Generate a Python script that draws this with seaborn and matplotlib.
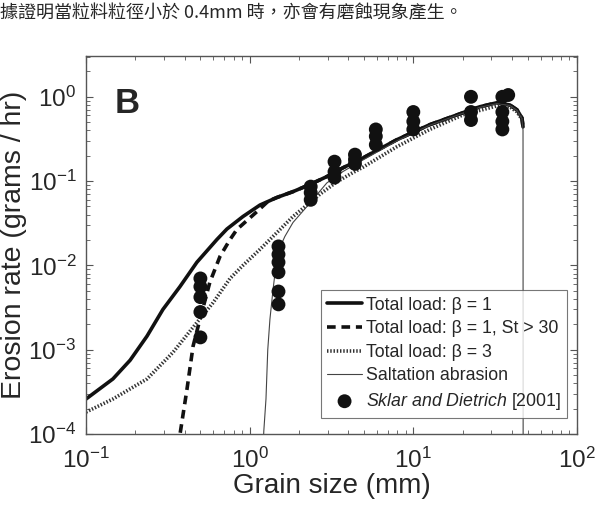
import numpy as np
import pandas as pd
import matplotlib
matplotlib.use('Agg')
import matplotlib.pyplot as plt
import seaborn as sns

# grain size (mm) and erosion rate (grams / hr)
solid_x = [0.1, 0.146, 0.186, 0.236, 0.295, 0.375, 0.476, 0.631, 0.726, 0.91, 1.156,
           1.47, 1.84, 2.33, 2.96, 3.72, 4.72, 7.94, 12.6, 20.1, 25.5, 32.4, 38.9, 43.0, 46.1, 46.8]
solid_y = [2.6e-4, 4.5e-4, 7.5e-4, 1.45e-3, 3.0e-3, 5.6e-3, 0.0109, 0.0203, 0.027, 0.038, 0.052,
           0.064, 0.075, 0.091, 0.113, 0.144, 0.18, 0.31, 0.467, 0.647, 0.762, 0.85, 0.80, 0.70, 0.56, 0.44]

dash_head_x = [0.365, 0.414, 0.451, 0.497, 0.571, 0.659, 0.759, 0.836, 1.11, 1.3]
dash_head_y = [7e-5, 3.4e-4, 1.1e-3, 2.3e-3, 6.3e-3, 0.0128, 0.0203, 0.0267, 0.0436, 0.058]
dash_x = dash_head_x + solid_x[11:]
dash_y = dash_head_y + solid_y[11:]

dot_x = [0.1, 0.146, 0.236, 0.34, 0.476, 0.597, 0.759, 0.91, 1.156, 1.47, 1.84, 2.24,
         2.69, 3.41, 4.27, 4.92, 7.94, 12.6, 20.1, 32.4, 38.9, 43.0, 46.1]
dot_y = [1.82e-4, 2.6e-4, 4.5e-4, 9.3e-4, 2.1e-3, 3.6e-3, 7.0e-3, 0.010, 0.0155, 0.0246, 0.038, 0.052,
         0.07, 0.098, 0.126, 0.146, 0.256, 0.41, 0.61, 0.78, 0.76, 0.66, 0.54]

salt_x = [1.2, 1.22, 1.258, 1.29, 1.33, 1.39, 1.45, 1.53, 1.64, 1.84, 2.24, 2.96, 3.72,
          4.72, 7.94, 12.6, 20.1, 25.5, 32.4, 38.9, 43.0, 46.1, 46.8, 46.9]
salt_y = [5e-5, 1.08e-4, 2.6e-4, 1.0e-3, 2.3e-3, 5.2e-3, 0.0103, 0.0163, 0.022, 0.0323, 0.050, 0.095, 0.13,
          0.17, 0.30, 0.46, 0.64, 0.75, 0.83, 0.79, 0.69, 0.55, 0.4, 1e-5]

# Sklar and Dietrich [2001] measurements
obs_x = [0.5, 0.5, 0.5, 0.5, 0.5,
         1.5, 1.5, 1.5, 1.5, 1.5, 1.5,
         2.36, 2.36, 2.36,
         3.3, 3.3, 3.3,
         4.4, 4.4, 4.4,
         5.9, 5.9, 5.9,
         10, 10, 10,
         22.5, 22.5, 22.5,
         35, 35, 35, 35, 38]
obs_y = [7.0e-3, 5.6e-3, 4.2e-3, 2.8e-3, 1.4e-3,
         0.0168, 0.0135, 0.0109, 8.3e-3, 4.9e-3, 3.45e-3,
         0.086, 0.073, 0.060,
         0.17, 0.129, 0.11,
         0.206, 0.18, 0.16,
         0.41, 0.34, 0.27,
         0.66, 0.51, 0.41,
         1.0, 0.66, 0.53,
         1.0, 0.66, 0.51, 0.41, 1.05]

sns.set_style('ticks')
plt.rcParams['font.family'] = ['Liberation Sans', 'DejaVu Sans']
plt.rcParams['mathtext.fontset'] = 'custom'
plt.rcParams['mathtext.rm'] = 'Liberation Sans'
plt.rcParams['mathtext.it'] = 'Liberation Sans:italic'
plt.rcParams['axes.unicode_minus'] = False

fig = plt.figure(figsize=(5.96, 5.07), dpi=100)
ax = fig.add_axes([0.1443, 0.144, 0.8238, 0.7456])
ax.set(xscale='log', yscale='log')

sns.lineplot(x=solid_x, y=solid_y, ax=ax, color='#111111', lw=2.6, estimator=None, sort=False,
             label='Total load: β = 1')
sns.lineplot(x=dash_x, y=dash_y, ax=ax, color='#111111', lw=2.6, estimator=None, sort=False,
             linestyle=(0, (2.4, 1.6)), label='Total load: β = 1, St > 30')
sns.lineplot(x=dot_x, y=dot_y, ax=ax, color='#333333', lw=2.6, estimator=None, sort=False,
             linestyle=(0, (0.4, 0.5)), label='Total load: β = 3')
sns.lineplot(x=salt_x, y=salt_y, ax=ax, color='#444444', lw=0.8, estimator=None, sort=False,
             label='Saltation abrasion')
sns.scatterplot(x=obs_x, y=obs_y, ax=ax, color='#111111', s=100, edgecolor='none', zorder=5,
                label=r'$\it{Sklar\ and\ Dietrich}$ [2001]')

ax.set_xlim(0.1, 100)
ax.set_ylim(1e-4, 3.05)
ax.set_xlabel('Grain size (mm)', fontsize=20, labelpad=0)
ax.set_ylabel('Erosion rate (grams / hr)', fontsize=20.5, labelpad=1)
ax.tick_params(which='both', direction='in', top=True, right=True, color='#555555', labelsize=17.5)
ax.tick_params(which='major', length=5, width=0.8)
ax.tick_params(which='minor', length=3, width=0.6)
ax.tick_params(axis='x', which='major', pad=10)
ax.tick_params(axis='y', which='major', pad=7)
for sp in ax.spines.values():
    sp.set_color('#555555')
    sp.set_linewidth(1.0)

ax.text(0.059, 0.918, 'B', transform=ax.transAxes, fontsize=25, fontweight='bold', va='top', ha='left')

leg = ax.legend(loc='lower right', bbox_to_anchor=(0.98, 0.042), borderaxespad=0, frameon=True,
                fancybox=False, edgecolor='#555555', fontsize=12.8, handlelength=2.0,
                handletextpad=0.2, labelspacing=0.37, borderpad=0.35)
leg.get_frame().set_linewidth(0.8)

fig.text(0.0, 0.974, '據證明當粒料粒徑小於 0.4mm 時，亦會有磨蝕現象產生。',
         family=['Noto Sans CJK TC', 'DejaVu Sans'], fontsize=13, va='center', ha='left')

fig.savefig('out.png', dpi=100)
